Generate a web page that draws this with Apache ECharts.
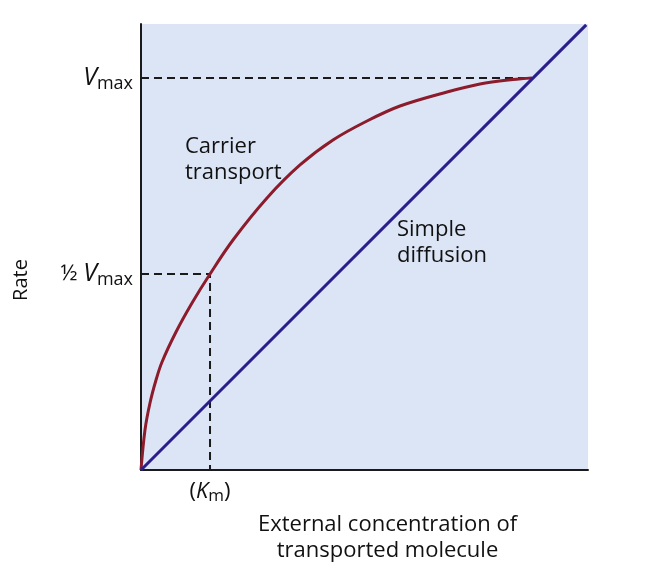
<!DOCTYPE html>
<html>
<head>
<meta charset="utf-8">
<script src="https://cdn.jsdelivr.net/npm/echarts@6/dist/echarts.min.js"></script>
<style>
html,body{margin:0;padding:0;background:#fff;}
#c{width:646px;height:573px;}
</style>
</head>
<body>
<div id="c"></div>
<script>
// ---- data (axes are in relative units 0..100) ----
const xMax = 100;
const yMax = 100;
const vmax = 87.9;
const halfVmax = 43.95;
const km = 15.44;
const carrierX = [0, 0.89, 2.01, 3.36, 4.70, 7.83, 11.41, 15.44, 20.58, 28.19, 35.57, 42.95, 50.56, 57.94, 68.46, 75.84, 83.22, 87.47];
const carrierY = [0, 8.97, 15.02, 20.18, 24.22, 30.94, 37.44, 43.95, 51.57, 60.99, 68.39, 73.99, 78.25, 81.61, 84.75, 86.55, 87.56, 87.9];
const diffusionX = [0, 99.6];
const diffusionY = [0, 99.8];
const xTitle = 'External concentration of\ntransported molecule';
const yTitle = 'Rate';
const carrierLabel = 'Carrier\ntransport';
const diffusionLabel = 'Simple\ndiffusion';

const FONT = '"Open Sans", "Noto Sans", sans-serif';
const zip = (xs, ys) => xs.map((x, i) => [x, ys[i]]);

const chart = echarts.init(document.getElementById('c'), null, {renderer: 'canvas'});
const dash = {type: [8, 5], color: '#1a1a1a', width: 2};

chart.setOption({
  animation: false,
  backgroundColor: '#ffffff',
  grid: {
    left: 141, right: 58, top: 24, bottom: 103,
    show: true, backgroundColor: '#dce5f6', borderWidth: 0
  },
  xAxis: {
    type: 'value', min: 0, max: xMax,
    splitLine: {show: false},
    axisTick: {show: false},
    axisLine: {show: true, lineStyle: {color: '#1a1a1a', width: 2}},
    axisLabel: {
      show: true,
      customValues: [km],
      margin: 8,
      formatter: () => '{n|(}{i|K}{s|m}{n|)}',
      rich: {
        n: {fontFamily: FONT, fontSize: 22, color: '#111'},
        i: {fontFamily: FONT, fontSize: 22, fontStyle: 'italic', color: '#111'},
        s: {fontFamily: FONT, fontSize: 17, color: '#111', padding: [10, 0, 0, 0]}
      }
    },
    name: xTitle,
    nameLocation: 'middle',
    nameGap: 42,
    nameTextStyle: {fontFamily: FONT, fontSize: 22, color: '#111', lineHeight: 26, padding: [0, 0, 0, 46]}
  },
  yAxis: {
    type: 'value', min: 0, max: yMax,
    splitLine: {show: false},
    axisTick: {show: false},
    axisLine: {show: true, lineStyle: {color: '#1a1a1a', width: 2}},
    axisLabel: {
      show: true,
      customValues: [halfVmax, vmax],
      margin: 8,
      formatter: (v) => (v === vmax ? '{i|V}{s|max}' : '{n|½ }{i|V}{s|max}'),
      rich: {
        n: {fontFamily: FONT, fontSize: 22, color: '#111'},
        i: {fontFamily: FONT, fontSize: 25, fontStyle: 'italic', color: '#111'},
        s: {fontFamily: FONT, fontSize: 18, color: '#111', padding: [11, 0, 0, 0]}
      }
    },
    name: yTitle,
    nameLocation: 'middle',
    nameRotate: 90,
    nameGap: 110,
    nameTextStyle: {fontFamily: FONT, fontSize: 20, color: '#111', padding: [0, 66, 0, 0]}
  },
  graphic: [
    {type: 'text', left: 185, top: 134, style: {text: carrierLabel, fontFamily: FONT, fontSize: 22, lineHeight: 26, fill: '#111'}},
    {type: 'text', left: 397, top: 217, style: {text: diffusionLabel, fontFamily: FONT, fontSize: 22, lineHeight: 26, fill: '#111'}}
  ],
  series: [
    {
      type: 'line', name: 'Vmax guide', symbol: 'none', silent: true,
      data: [[0, vmax], [carrierX[carrierX.length - 1], vmax]],
      lineStyle: dash, z: 1
    },
    {
      type: 'line', name: 'Half Vmax guide', symbol: 'none', silent: true,
      data: [[0, halfVmax], [km, halfVmax], [km, 0]],
      lineStyle: dash, z: 1
    },
    {
      type: 'line', name: 'Carrier transport', symbol: 'none', smooth: 0.35,
      data: zip(carrierX, carrierY),
      lineStyle: {color: '#8c1c2c', width: 3}, z: 3
    },
    {
      type: 'line', name: 'Simple diffusion', symbol: 'none',
      data: zip(diffusionX, diffusionY),
      lineStyle: {color: '#2a1d8c', width: 3}, z: 4
    }
  ]
});
</script>
</body>
</html>
